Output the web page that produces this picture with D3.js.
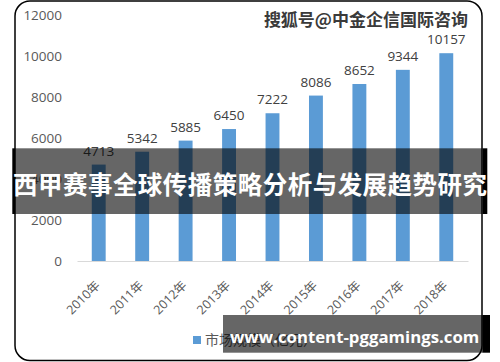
<!DOCTYPE html>
<html>
<head>
<meta charset="utf-8">
<style>
body { margin: 0; background: #fff; }
svg { display: block; }
.tick text { fill: #595959; }
</style>
</head>
<body>
<svg id="chart" width="500" height="362"></svg>
<script src="https://cdnjs.cloudflare.com/ajax/libs/d3/7.8.5/d3.min.js"></script>
<script>
// chart data
const years = ["2010年", "2011年", "2012年", "2013年", "2014年", "2015年", "2016年", "2017年", "2018年"];
const values = [4713, 5342, 5885, 6450, 7222, 8086, 8652, 9344, 10157];
const yTicks = [0, 2000, 4000, 6000, 8000, 10000, 12000];
const legendLabel = "市场规模（亿元）";
const title = "西甲赛事全球传播策略分析与发展趋势研究";
const watermark = "搜狐号@中金企信国际咨询";
const siteText = "www.content-pggamings.com";

const svg = d3.select("#chart");
const numFont = "'Open Sans', 'Noto Sans CJK SC', sans-serif";

const x = d3.scaleBand().domain(years).range([77, 468]).paddingInner(0.68).paddingOuter(0.34);
const y = d3.scaleLinear().domain([0, 12000]).range([261, 15.5]);

// frame
svg.append("rect")
    .attr("x", 15).attr("y", 1).attr("width", 467).attr("height", 359.5)
    .attr("rx", 15).attr("ry", 15)
    .attr("fill", "#fff").attr("stroke", "#000").attr("stroke-width", 1.5);

// y axis labels
const yAxis = svg.append("g")
    .attr("transform", "translate(65,0)")
    .call(d3.axisLeft(y).tickValues(yTicks).tickSize(0).tickPadding(3).tickFormat(d3.format("d")));
yAxis.select(".domain").remove();
yAxis.selectAll("text").attr("font-family", numFont).attr("font-size", 13.5);

// bars
svg.append("g").selectAll("rect")
    .data(values)
    .join("rect")
    .attr("x", (d, i) => x(years[i]))
    .attr("y", d => y(d))
    .attr("width", x.bandwidth())
    .attr("height", d => y(0) - y(d))
    .attr("fill", "#5b9bd5");

// value labels
svg.append("g").selectAll("text")
    .data(values)
    .join("text")
    .attr("x", (d, i) => x(years[i]) + x.bandwidth() / 2)
    .attr("y", d => y(d) - 9)
    .attr("text-anchor", "middle")
    .attr("font-family", numFont)
    .attr("font-size", 13.5)
    .attr("fill", "#404040")
    .text(d => d);

// x axis
const xAxis = svg.append("g")
    .attr("transform", `translate(0,${y(0)})`)
    .call(d3.axisBottom(x).tickSize(0).tickSizeOuter(0));
xAxis.select(".domain").attr("stroke", "#d9d9d9").attr("stroke-width", 1);
xAxis.selectAll("text")
    .attr("font-family", numFont)
    .attr("font-size", 12.5)
    .attr("text-anchor", "end")
    .attr("x", 0).attr("y", 0).attr("dy", "0.35em")
    .attr("transform", "translate(-1,22) rotate(-45)");

// legend
svg.append("rect").attr("x", 193).attr("y", 336).attr("width", 8).attr("height", 8).attr("fill", "#5b9bd5");
svg.append("text")
    .attr("x", 205).attr("y", 340).attr("dy", "0.35em")
    .attr("font-family", "'Noto Sans CJK SC', sans-serif")
    .attr("font-size", 14).attr("fill", "#595959")
    .text(legendLabel);

// watermark
svg.append("text")
    .attr("x", 468).attr("y", 20).attr("dy", "0.36em")
    .attr("text-anchor", "end")
    .attr("font-family", "'Noto Sans CJK SC', sans-serif")
    .attr("font-size", 17).attr("font-weight", "bold")
    .attr("fill", "#3a3a3a")
    .attr("stroke", "#fff").attr("stroke-width", 2.5)
    .attr("paint-order", "stroke")
    .text(watermark);

// title banner
svg.append("rect").attr("x", 12.3).attr("y", 148.3).attr("width", 2.7).attr("height", 65.7).attr("fill", "#000");
svg.append("rect").attr("x", 482.7).attr("y", 148.3).attr("width", 4.6).attr("height", 65.7).attr("fill", "#000");
svg.append("rect").attr("x", 15).attr("y", 148.3).attr("width", 467.7).attr("height", 65.7).attr("fill", "rgba(0,0,0,0.6)");
svg.append("text")
    .attr("x", 13).attr("y", 185).attr("dy", "0.36em")
    .attr("font-family", "'Noto Sans CJK SC', sans-serif")
    .attr("font-size", 24.5).attr("font-weight", "bold")
    .attr("textLength", 474).attr("lengthAdjust", "spacing")
    .attr("fill", "#fff")
    .text(title);

// site banner
svg.append("rect").attr("x", 482.3).attr("y", 315).attr("width", 7.7).attr("height", 37.7).attr("fill", "#000");
svg.append("rect").attr("x", 223).attr("y", 315).attr("width", 259.3).attr("height", 37.7).attr("fill", "rgba(0,0,0,0.6)");
svg.append("text")
    .attr("x", 230).attr("y", 343)
    .attr("font-family", "'Open Sans', sans-serif")
    .attr("font-size", 16.8).attr("font-weight", "bold")
    .attr("fill", "#fff")
    .text(siteText);
</script>
</body>
</html>
